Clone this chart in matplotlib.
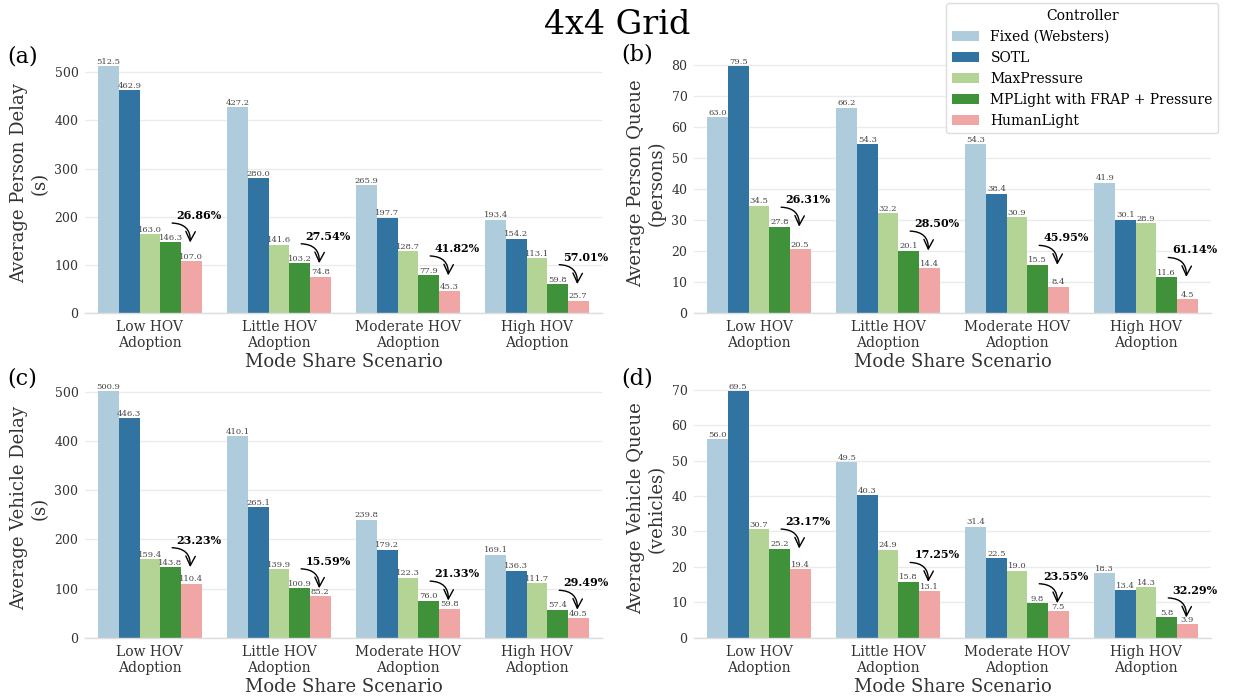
import colorsys
import matplotlib
matplotlib.use("Agg")
import matplotlib.pyplot as plt
import matplotlib.colors as mcolors
import numpy as np

plt.rcParams["font.family"] = ["DejaVu Serif"]

scenarios = ["Low HOV\nAdoption", "Little HOV\nAdoption", "Moderate HOV\nAdoption", "High HOV\nAdoption"]
controllers = ["Fixed (Websters)", "SOTL", "MaxPressure", "MPLight with FRAP + Pressure", "HumanLight"]
base_colors = ["#a6cee3", "#1f78b4", "#b2df8a", "#33a02c", "#fb9a99"]

# values per controller, one entry per scenario (Low, Little, Moderate, High)
person_delay = {
    "Fixed (Websters)": [512.5, 427.2, 265.9, 193.4],
    "SOTL": [462.9, 280.0, 197.7, 154.2],
    "MaxPressure": [163.0, 141.6, 128.7, 113.1],
    "MPLight with FRAP + Pressure": [146.3, 103.2, 77.9, 59.8],
    "HumanLight": [107.0, 74.8, 45.3, 25.7],
}
person_delay_pct = ["26.86%", "27.54%", "41.82%", "57.01%"]

person_queue = {
    "Fixed (Websters)": [63.0, 66.2, 54.3, 41.9],
    "SOTL": [79.5, 54.3, 38.4, 30.1],
    "MaxPressure": [34.5, 32.2, 30.9, 28.9],
    "MPLight with FRAP + Pressure": [27.8, 20.1, 15.5, 11.6],
    "HumanLight": [20.5, 14.4, 8.4, 4.5],
}
person_queue_pct = ["26.31%", "28.50%", "45.95%", "61.14%"]

vehicle_delay = {
    "Fixed (Websters)": [500.9, 410.1, 239.8, 169.1],
    "SOTL": [446.3, 265.1, 179.2, 136.3],
    "MaxPressure": [159.4, 139.9, 122.3, 111.7],
    "MPLight with FRAP + Pressure": [143.8, 100.9, 76.0, 57.4],
    "HumanLight": [110.4, 85.2, 59.8, 40.5],
}
vehicle_delay_pct = ["23.23%", "15.59%", "21.33%", "29.49%"]

vehicle_queue = {
    "Fixed (Websters)": [56.0, 49.5, 31.4, 18.3],
    "SOTL": [69.5, 40.3, 22.5, 13.4],
    "MaxPressure": [30.7, 24.9, 19.0, 14.3],
    "MPLight with FRAP + Pressure": [25.2, 15.8, 9.8, 5.8],
    "HumanLight": [19.4, 13.1, 7.5, 3.9],
}
vehicle_queue_pct = ["23.17%", "17.25%", "23.55%", "32.29%"]

panels = [
    ("(a)", "Average Person Delay\n(s)", person_delay, person_delay_pct),
    ("(b)", "Average Person Queue\n(persons)", person_queue, person_queue_pct),
    ("(c)", "Average Vehicle Delay\n(s)", vehicle_delay, vehicle_delay_pct),
    ("(d)", "Average Vehicle Queue\n(vehicles)", vehicle_queue, vehicle_queue_pct),
]


def desaturate(c, prop=0.75):
    r, g, b = mcolors.to_rgb(c)
    h, l, s = colorsys.rgb_to_hls(r, g, b)
    return colorsys.hls_to_rgb(h, l, s * prop)


colors = [desaturate(c) for c in base_colors]

fig, axes = plt.subplots(2, 2, figsize=(12.34, 7.0), dpi=100)
fig.subplots_adjust(left=0.0692, right=0.981, bottom=0.0886, top=0.923, wspace=0.18, hspace=0.255)

x = np.arange(len(scenarios))
n = len(controllers)
width = 0.8 / n

for ax, (tag, ylabel, data, pcts) in zip(axes.flat, panels):
    handles = []
    for k, name in enumerate(controllers):
        offs = -0.4 + width * (k + 0.5)
        bars = ax.bar(x + offs, data[name], width, color=colors[k], label=name, zorder=2)
        ax.bar_label(bars, fmt="%.1f", fontsize=6, color="#444444", padding=0.3)
        handles.append(bars)

    # reduction arrows: from MPLight to HumanLight
    mp = data["MPLight with FRAP + Pressure"]
    for i in range(len(scenarios)):
        tip_x = i - 0.4 + width * 4.45
        ax.annotate("", xy=(tip_x, mp[i]), xycoords="data",
                    xytext=(-13, 14), textcoords="offset points",
                    arrowprops=dict(arrowstyle="->", connectionstyle="arc3,rad=-0.5",
                                    color="black", lw=1.0, shrinkA=0, shrinkB=0,
                                    mutation_scale=17))
        ax.annotate(pcts[i], xy=(tip_x, mp[i]), xycoords="data",
                    xytext=(-10, 15.5), textcoords="offset points",
                    ha="left", va="bottom", fontsize=8, fontweight="bold", color="black")

    ax.set_xlim(-0.5, len(scenarios) - 0.5)
    ax.set_xticks(x)
    ax.set_xticklabels(scenarios, fontsize=10, color="#333333")
    ax.tick_params(axis="x", length=0, pad=5)
    ax.tick_params(axis="y", length=0, labelsize=9, labelcolor="#333333", pad=5)
    ax.set_xlabel("Mode Share Scenario", fontsize=13, color="#333333", labelpad=2)
    ax.set_ylabel(ylabel, fontsize=13, color="#333333")
    ax.grid(axis="y", color="#ebebeb", lw=1.0, zorder=0)
    ax.set_axisbelow(True)
    for side in ["left", "top", "right"]:
        ax.spines[side].set_visible(False)
    ax.spines["bottom"].set_color("#dddddd")
    ax.spines["bottom"].set_linewidth(1.0)

fig.text(0.018, 0.92, "(a)", fontsize=16, ha="center", va="center")
fig.text(0.516, 0.922, "(b)", fontsize=16, ha="center", va="center")
fig.text(0.018, 0.459, "(c)", fontsize=16, ha="center", va="center")
fig.text(0.516, 0.459, "(d)", fontsize=16, ha="center", va="center")

fig.suptitle("4x4 Grid", fontsize=24, y=0.987, va="top", x=0.5)

fig.legend(handles, controllers, title="Controller", loc="upper right",
           bbox_to_anchor=(0.993, 1.005), fontsize=10, title_fontsize=10,
           frameon=True, edgecolor="#dddddd", framealpha=1.0)

fig.savefig("out.png", dpi=100)
